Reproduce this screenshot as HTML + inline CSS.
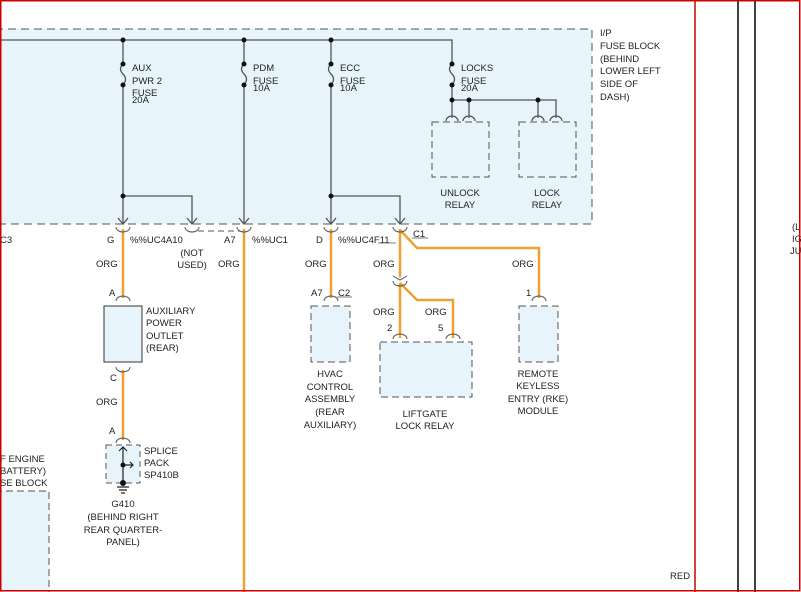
<!DOCTYPE html>
<html><head><style>
html,body{margin:0;padding:0;background:#fff;}
svg{display:block;font-family:"Liberation Sans",sans-serif;}
text{font-size:9.5px;fill:#222;}
</style></head><body>
<svg width="801" height="592" viewBox="0 0 801 592" xmlns="http://www.w3.org/2000/svg">
<rect x="0" y="0" width="801" height="592" fill="#fff"/>
<!-- fuse block -->
<rect x="-5" y="29" width="597" height="195" fill="#e8f4fc" stroke="#555" stroke-dasharray="8,5"/>
<g stroke="#555" stroke-width="1.3" fill="none">
<path d="M0 40 H452 V64"/>
<path d="M123 40 V64 M123 85 V224"/>
<path d="M244 40 V64 M244 85 V224"/>
<path d="M331 40 V64 M331 85 V224"/>
<path d="M452 85 V118"/>
<path d="M123 196 H192 V224"/>
<path d="M331 196 H400 V224"/>
<path d="M452 100 H556 V118 M469 100 V118 M538 100 V118"/>
<!-- fuse squiggles -->
<path d="M123 64 q-5 5 0 10 q5 5 0 11"/>
<path d="M244 64 q-5 5 0 10 q5 5 0 11"/>
<path d="M331 64 q-5 5 0 10 q5 5 0 11"/>
<path d="M452 64 q-5 5 0 10 q5 5 0 11"/>
<!-- arrows -->
<path d="M118 218 l5 6 l5 -6 M187 218 l5 6 l5 -6 M239 218 l5 6 l5 -6 M326 218 l5 6 l5 -6 M395 218 l5 6 l5 -6"/>
<!-- relay connectors -->
<path d="M446 121 a6 5 0 0 1 12 0 M463 121 a6 5 0 0 1 12 0 M532 121 a6 5 0 0 1 12 0 M550 121 a6 5 0 0 1 12 0"/>
</g>
<g fill="#111">
<circle cx="123" cy="40" r="2.5"/><circle cx="244" cy="40" r="2.5"/><circle cx="331" cy="40" r="2.5"/>
<circle cx="123" cy="64" r="2.5"/><circle cx="123" cy="85" r="2.5"/>
<circle cx="244" cy="64" r="2.5"/><circle cx="244" cy="85" r="2.5"/>
<circle cx="331" cy="64" r="2.5"/><circle cx="331" cy="85" r="2.5"/>
<circle cx="452" cy="64" r="2.5"/><circle cx="452" cy="85" r="2.5"/>
<circle cx="123" cy="196" r="2.5"/><circle cx="331" cy="196" r="2.5"/>
<circle cx="452" cy="100" r="2.5"/><circle cx="469" cy="100" r="2.5"/><circle cx="538" cy="100" r="2.5"/>
</g>
<rect x="432" y="122" width="57" height="55" fill="#e8f4fc" stroke="#555" stroke-dasharray="7,4"/>
<rect x="519" y="122" width="57" height="55" fill="#e8f4fc" stroke="#555" stroke-dasharray="7,4"/>
<text x="132" y="71">AUX</text><text x="132" y="84">PWR 2</text><text x="132" y="96">FUSE</text><text x="132" y="103">20A</text>
<text x="253" y="71">PDM</text><text x="253" y="84">FUSE</text><text x="253" y="91">10A</text>
<text x="340" y="71">ECC</text><text x="340" y="84">FUSE</text><text x="340" y="91">10A</text>
<text x="461" y="71">LOCKS</text><text x="461" y="84">FUSE</text><text x="461" y="91">20A</text>
<text x="460" y="196" text-anchor="middle">UNLOCK</text><text x="460" y="208" text-anchor="middle">RELAY</text>
<text x="547" y="196" text-anchor="middle">LOCK</text><text x="547" y="208" text-anchor="middle">RELAY</text>
<text x="600" y="36">I/P</text><text x="600" y="49">FUSE BLOCK</text><text x="600" y="62">(BEHIND</text><text x="600" y="74">LOWER LEFT</text><text x="600" y="87">SIDE OF</text><text x="600" y="100">DASH)</text>
<!-- orange wires -->
<g stroke="#f0a030" stroke-width="2.5" fill="none">
<path d="M123 229 V298 M123 370 V440"/>
<path d="M244 229 V592"/>
<path d="M331 229 V298"/>
<path d="M400 229 V277 M400 230 L417 248 H539 V298"/>
<path d="M400 283 V338 M400 283 L417 300 H453 V338"/>
</g>
<!-- connectors -->
<g stroke="#555" stroke-width="1" fill="none">
<path d="M116 227 a7 5 0 0 0 14 0 M185 227 a7 5 0 0 0 14 0 M237 227 a7 5 0 0 0 14 0 M324 227 a7 5 0 0 0 14 0 M393 227 a7 5 0 0 0 14 0"/>
<path d="M116 301 a7 5 0 0 1 14 0 M324 301 a7 5 0 0 1 14 0 M532 301 a7 5 0 0 1 14 0"/>
<path d="M116 367 a7 5 0 0 0 14 0 M116 443 a7 5 0 0 1 14 0"/>
<path d="M393 276 l7 4 l7 -4 M393 281 a7 5 0 0 0 14 0"/>
<path d="M393 339 a7 5 0 0 1 14 0 M446 339 a7 5 0 0 1 14 0"/>
<path d="M198 231 H240" stroke-dasharray="6,4"/>
</g>
<text x="0" y="243">C3</text>
<text x="107" y="243">G</text><text x="130" y="243">%%UC4A10</text>
<text x="192" y="256" text-anchor="middle">(NOT</text><text x="192" y="268" text-anchor="middle">USED)</text>
<text x="224" y="243">A7</text><text x="252" y="243">%%UC1</text>
<text x="316" y="243">D</text><text x="338" y="243">%%UC4F11</text>
<line x1="378" y1="243" x2="396" y2="243" stroke="#555" stroke-width="0.8"/>
<text x="413" y="237">C1</text><line x1="412" y1="238" x2="428" y2="238" stroke="#555" stroke-width="0.8"/>
<text x="96" y="267">ORG</text><text x="218" y="267">ORG</text><text x="305" y="267">ORG</text><text x="373" y="267">ORG</text><text x="512" y="267">ORG</text>
<text x="109" y="296">A</text>
<rect x="104" y="306" width="38" height="56" fill="#e8f4fc" stroke="#333"/>
<text x="146" y="314">AUXILIARY</text><text x="146" y="326">POWER</text><text x="146" y="339">OUTLET</text><text x="146" y="351">(REAR)</text>
<text x="110" y="381">C</text><text x="96" y="405">ORG</text><text x="109" y="434">A</text>
<rect x="106" y="445" width="34" height="38" fill="#e8f4fc" stroke="#555" stroke-dasharray="6,4"/>
<g stroke="#222" stroke-width="1.2" fill="none"><path d="M123 447 V483 M119 451 l4 -4 l4 4 M123 465 H133 M130 462 l3 3 l-3 3 M117 487 H129 M119 490 H127 M121 493 H125"/></g>
<circle cx="123" cy="465" r="2.5" fill="#111"/><circle cx="123" cy="483" r="3" fill="#111"/>
<text x="144" y="454">SPLICE</text><text x="144" y="466">PACK</text><text x="144" y="478">SP410B</text>
<text x="123" y="507" text-anchor="middle">G410</text><text x="123" y="520" text-anchor="middle">(BEHIND RIGHT</text><text x="123" y="533" text-anchor="middle">REAR QUARTER-</text><text x="123" y="545" text-anchor="middle">PANEL)</text>
<text x="311" y="296">A7</text><text x="338" y="296">C2</text><line x1="337" y1="297" x2="352" y2="297" stroke="#555" stroke-width="0.8"/>
<rect x="311" y="306" width="39" height="56" fill="#e8f4fc" stroke="#555" stroke-dasharray="7,4"/>
<text x="330" y="377" text-anchor="middle">HVAC</text><text x="330" y="390" text-anchor="middle">CONTROL</text><text x="330" y="402" text-anchor="middle">ASSEMBLY</text><text x="330" y="415" text-anchor="middle">(REAR</text><text x="330" y="428" text-anchor="middle">AUXILIARY)</text>
<text x="373" y="315">ORG</text><text x="425" y="315">ORG</text>
<text x="387" y="331">2</text><text x="438" y="331">5</text>
<rect x="380" y="342" width="92" height="55" fill="#e8f4fc" stroke="#555" stroke-dasharray="7,4"/>
<text x="425" y="417" text-anchor="middle">LIFTGATE</text><text x="425" y="429" text-anchor="middle">LOCK RELAY</text>
<text x="526" y="296">1</text>
<rect x="519" y="306" width="39" height="56" fill="#e8f4fc" stroke="#555" stroke-dasharray="7,4"/>
<text x="538" y="377" text-anchor="middle">REMOTE</text><text x="538" y="389" text-anchor="middle">KEYLESS</text><text x="538" y="402" text-anchor="middle">ENTRY (RKE)</text><text x="538" y="414" text-anchor="middle">MODULE</text>
<text x="0" y="462">F ENGINE</text><text x="0" y="474">BATTERY)</text><text x="0" y="486">SE BLOCK</text>
<rect x="-5" y="491" width="54" height="110" fill="#e8f4fc" stroke="#555" stroke-dasharray="7,4"/>
<text x="670" y="579">RED</text>
<text x="792" y="230">(L</text><text x="792" y="242">IG</text><text x="790" y="254">JU</text>
<!-- frame lines -->
<line x1="695" y1="0" x2="695" y2="592" stroke="#c00" stroke-width="1.5"/>
<line x1="738" y1="0" x2="738" y2="592" stroke="#000" stroke-width="1.5"/>
<line x1="755" y1="0" x2="755" y2="592" stroke="#000" stroke-width="1.5"/>
<rect x="0.75" y="0.75" width="799" height="590" fill="none" stroke="#c00" stroke-width="1.5"/>
</svg>
</body></html>
